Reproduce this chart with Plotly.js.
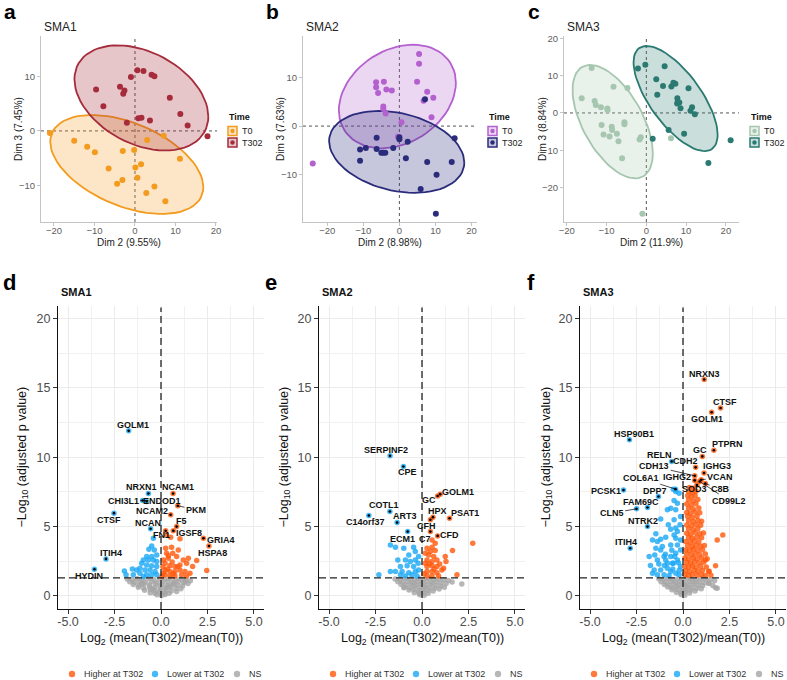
<!DOCTYPE html>
<html>
<head>
<meta charset="utf-8">
<script src="https://cdn.plot.ly/plotly-3.0.1.min.js"></script>
<style>
  body { margin: 0; background: #fff; }
  #chart { width: 787px; height: 680px; }
</style>
</head>
<body>
<div id="chart"></div>
<script>
const W = 787, H = 680;
const FONT = "Liberation Sans, Arial, Helvetica, sans-serif";

// ---------- PCA scores (Dim 2 / Dim 3) ----------
const aT0x = [-21.0, -15.0, -11.8, -9.9, -6.5, -4.4, -3.1, -3.0, -0.2, 0.1, 0.6, 1.5, 2.8, 4.8, 7.5, 11.1, 3.0, 7.1];
const aT0y = [-0.4, -1.8, -2.9, -3.9, -6.9, -9.7, -9.0, -3.7, -3.5, -6.7, -8.6, -6.1, -11.4, -10.2, -12.9, -5.1, -1.65, -0.9];
const aT302x = [-9.6, -3.7, -2.6, -2.9, -1.0, 0.6, 2.1, 4.1, 4.8, -7.8, 8.6, 11.2, 13.0, 0.8, 1.6, 3.7, -2.0, 17.9];
const aT302y = [7.6, 8.1, 7.4, 6.8, 9.9, 11.1, 11.0, 10.3, 10.0, 4.5, 6.1, 3.1, 1.0, 2.3, 2.4, 1.9, 1.5, -1.0];

const bT0x = [5.45, 5.45, 4.9, -6.45, -6.45, -5.9, -4.3, -3.6, -2.1, 7.7, 9.4, 6.7, -4.45, -4.45, -3.8, 8.9, 0.6, -0.4, -24.0];
const bT0y = [14.8, 12.8, 9.1, 9.0, 8.0, 6.8, 9.1, 7.5, 7.3, 7.05, 5.8, 5.2, 4.0, 3.5, 2.6, 1.8, 0.8, -2.2, -7.7];
const bT302x = [7.1, -6.3, -10.9, -9.3, -6.3, -5.0, -4.5, -3.9, -1.7, 0.0, 0.0, 2.3, 1.8, -10.9, 7.7, 15.3, 14.5, 10.3, 5.9, 10.1];
const bT302y = [5.5, -2.4, -4.8, -4.5, -4.7, -5.5, -5.5, -5.5, -4.5, -2.7, -2.3, -3.2, -6.6, -7.1, -7.4, -2.5, -7.4, -10.0, -12.9, -18.0];

const cT0x = [-13.75, -16.25, -13.0, -12.7, -11.4, -9.8, -9.75, -8.25, -4.75, -11.25, -8.7, -8.6, -10.75, -9.25, -7.4, -7.0, -5.5, -5.5, -6.1, -1.7, -1.4, 6.2, -1.0];
const cT0y = [12.05, 3.9, 3.2, 2.1, 1.5, 1.2, 0.7, 7.0, 6.7, -3.2, -3.7, -4.6, -5.8, -6.3, -5.6, -7.6, -2.5, -3.0, -12.1, -7.1, -6.5, -6.8, -27.0];
const cT302x = [-0.25, -2.1, 4.6, 2.5, 4.2, 6.3, 6.8, 7.3, 10.6, 2.75, 7.8, 7.9, 7.75, 8.3, 11.5, 11.1, 12.2, 8.6, 5.6, 1.6, 9.5, 15.6, 21.2];
const cT302y = [12.9, 11.9, 12.5, 9.0, 7.2, 7.05, 8.1, 7.8, 6.6, 4.9, 3.9, 3.0, 2.5, 2.8, 1.5, 0.6, -0.35, 1.25, -4.55, -6.9, -5.6, -13.4, -7.3];

const groupNames = ["T0", "T302"];
const pcaTicks = [-20, -10, 0, 10, 20];

// ---------- volcano: SMA1 ----------
const dNsX = [-1.82, -1.55, -1.28, -0.97, -0.66, -0.38, -0.08, 0.21, 0.49, 0.78, 1.06, 1.33, 1.58,
  -1.68, -1.41, -1.12, -0.83, -0.51, -0.22, 0.09, 0.37, 0.66, 0.93, 1.21, 1.45,
  -1.49, -1.19, -0.92, -0.61, -0.29, 0.02, 0.31, 0.58, 0.89, 1.16,
  -1.22, -0.94, -0.63, -0.35, -0.06, 0.24, 0.52, 0.81, 1.07,
  -0.88, -0.57, -0.31, -0.02, 0.27, 0.55, 0.84,
  -0.58, -0.33, -0.08, 0.18, 0.44,
  -0.21, 0.03, 0.22,
  -1.05, 0.71, -0.45, 0.4, 1.3];
const dNsY = [1.22, 1.18, 1.24, 1.2, 1.25, 1.17, 1.23, 1.2, 1.26, 1.19, 1.22, 1.16, 1.1,
  1.02, 0.98, 1.04, 0.99, 1.03, 0.96, 1.01, 1.05, 0.97, 1.02, 0.95, 0.9,
  0.82, 0.78, 0.84, 0.79, 0.85, 0.8, 0.76, 0.83, 0.78, 0.72,
  0.62, 0.58, 0.65, 0.6, 0.63, 0.57, 0.61, 0.56, 0.52,
  0.42, 0.45, 0.38, 0.44, 0.4, 0.36, 0.33,
  0.24, 0.2, 0.26, 0.22, 0.19,
  0.08, 0.04, 0.1,
  0.9, 0.88, 0.5, 0.68, 1.05];
const dDownX = [-0.41, -0.5, -0.65, -0.36, -0.77, -0.5, -0.23, -0.95, -0.68, -0.41, -0.23, -1.04, -0.77, -0.5, -0.23,
  -1.13, -0.86, -0.59, -0.32, -1.31, -1.54, -1.97, -1.88, -1.49, -1.13, -0.77, -0.5, -0.23, -0.95];
const dDownY = [4.16, 3.61, 3.37, 3.32, 2.84, 2.84, 2.96, 2.6, 2.6, 2.6, 2.48, 2.36, 2.24, 2.17, 2.12,
  2.0, 1.88, 1.88, 1.76, 1.88, 1.95, 1.8, 1.52, 1.52, 1.64, 1.52, 1.52, 1.52, 1.4];
const dUpX = [1.02, 0.3, 0.52, 0.25, 0.57, 0.3, 0.63, 0.39, 0.84, 1.2, 1.47, 1.92, 1.7, 1.38, 1.02, 0.22, 0.48,
  0.75, 0.22, 0.48, 0.75, 1.02, 1.29, 1.56, 0.22, 0.48, 0.75, 1.11, 1.38, 2.46, 0.13, 0.13, 0.93,
  0.35, 0.6, 0.9, 0.1, 0.65, 0.4, 0.05];
const dUpY = [4.12, 4.4, 4.24, 3.44, 3.51, 3.08, 3.08, 2.72, 2.84, 2.6, 2.72, 2.55, 2.12, 2.36, 2.24, 2.36, 2.17,
  2.12, 1.88, 1.76, 1.76, 1.88, 1.76, 1.64, 1.52, 1.44, 1.44, 1.52, 1.44, 1.83, 2.6, 1.64, 3.32,
  1.95, 2.45, 2.1, 2.1, 1.6, 2.9, 1.4];
const dGenes = ["GOLM1", "NRXN1", "NCAM1", "CHI3L1", "ENDOD1", "NCAM2", "PKM", "F5", "NCAN", "FN1", "IGSF8", "CTSF", "GRIA4", "HSPA8", "ITIH4", "HYDIN"];
const dGeneX = [-1.74, -0.68, 0.65, -0.99, -0.77, 0.52, 0.9, 0.84, -0.56, 0.25, 0.66, -2.53, 2.28, 2.58, -2.96, -3.58];
const dGeneY = [11.9, 7.39, 7.39, 6.88, 6.81, 5.85, 6.5, 5.0, 4.84, 4.7, 4.7, 5.97, 4.16, 3.6, 2.67, 1.92];

// ---------- volcano: SMA2 ----------
const eNsX = [-1.45, -1.18, -0.92, -0.65, -0.4, -0.14, 0.12, 0.38, 0.63, 0.9, 1.15, 1.42,
  -1.3, -1.04, -0.78, -0.52, -0.26, 0.0, 0.26, 0.52, 0.78, 1.03, 1.3,
  -1.12, -0.85, -0.58, -0.31, -0.05, 0.21, 0.48, 0.74, 1.0,
  -0.93, -0.66, -0.4, -0.13, 0.14, 0.41, 0.68, 0.92,
  -0.7, -0.44, -0.18, 0.08, 0.34, 0.6,
  -0.42, -0.17, 0.09, 0.33,
  -0.12, 0.12,
  2.14, 1.62, -0.98, 1.2];
const eNsY = [1.23, 1.19, 1.25, 1.21, 1.17, 1.24, 1.2, 1.26, 1.18, 1.22, 1.16, 1.12,
  1.03, 0.99, 1.05, 0.97, 1.02, 0.98, 1.04, 0.96, 1.01, 0.94, 0.9,
  0.83, 0.79, 0.85, 0.8, 0.84, 0.77, 0.82, 0.76, 0.72,
  0.63, 0.59, 0.66, 0.61, 0.64, 0.58, 0.55, 0.5,
  0.43, 0.46, 0.39, 0.44, 0.4, 0.35,
  0.25, 0.21, 0.27, 0.2,
  0.09, 0.05,
  0.87, 1.0, 0.6, 0.62];
const eDownX = [-1.7, -1.43, -0.98, -0.45, -0.36, -0.71, -1.3, -0.89, -0.63, -0.36, -0.21, -1.16, -0.8,
  -0.45, -1.7, -1.43, -1.07, -0.71, -0.36, -0.18, -2.32, -1.16, -0.89, -0.54, -0.27, -0.18];
const eDownY = [3.68, 3.51, 3.44, 3.51, 3.2, 2.96, 2.6, 2.6, 2.48, 2.6, 2.36, 2.12, 2.17,
  2.12, 1.76, 1.76, 1.76, 1.68, 1.76, 1.88, 1.52, 1.52, 1.44, 1.52, 1.44, 2.84];
const eUpX = [2.73, 0.54, 0.27, 0.71, 0.36, 0.63, 1.25, 1.64, 0.27, 0.54, 0.8, 1.29, 0.27, 0.54, 0.8, 1.16,
  0.27, 0.54, 0.8, 1.07, 0.27, 0.54, 0.89, 1.88, 0.71, 0.54, 0.18, 0.18, 0.4, 0.65, 0.1, 0.45, 0.95];
const eUpY = [3.8, 3.51, 3.44, 3.27, 2.96, 2.84, 2.84, 3.27, 2.6, 2.48, 2.6, 2.48, 2.12, 2.17, 2.12, 2.0,
  1.76, 1.76, 1.68, 1.88, 1.44, 1.44, 1.44, 1.52, 3.8, 4.04, 2.36, 3.08, 2.3, 1.95, 1.6, 3.2, 2.3];
const eGenes = ["SERPINF2", "CPE", "GOLM1", "GC", "COTL1", "C14orf37", "ART3", "HPX", "PSAT1", "CFH", "ECM1", "C7", "CFD"];
const eGeneX = [-1.72, -1.0, 0.98, 0.84, -1.73, -2.86, -1.34, 0.59, 1.48, 0.45, -0.77, 0.45, 0.84];
const eGeneY = [10.1, 9.33, 7.34, 7.2, 6.09, 5.8, 5.3, 5.68, 5.6, 5.49, 4.64, 4.64, 4.33];

// ---------- volcano: SMA3 ----------
const fNsX = [-1.3, -1.05, -0.8, -0.55, -0.3, -0.05, 0.2, 0.45, 0.7, 0.95, 1.2, 1.45, 1.7,
  -1.18, -0.92, -0.66, -0.4, -0.15, 0.1, 0.36, 0.62, 0.88, 1.12, 1.38,
  -1.0, -0.74, -0.48, -0.22, 0.04, 0.3, 0.56, 0.82, 1.06,
  -0.82, -0.56, -0.3, -0.04, 0.22, 0.48, 0.74, 0.98,
  -0.6, -0.35, -0.1, 0.15, 0.4, 0.65,
  -0.36, -0.12, 0.12, 0.36,
  -0.1, 0.1,
  1.39, 1.75, 1.6, 1.84];
const fNsY = [1.24, 1.2, 1.26, 1.18, 1.23, 1.19, 1.25, 1.21, 1.17, 1.24, 1.2, 1.15, 1.1,
  1.03, 0.99, 1.05, 0.98, 1.02, 0.96, 1.04, 0.99, 1.01, 0.95, 0.92,
  0.83, 0.78, 0.85, 0.81, 0.84, 0.79, 0.82, 0.77, 0.73,
  0.64, 0.6, 0.66, 0.62, 0.65, 0.58, 0.56, 0.52,
  0.44, 0.47, 0.4, 0.45, 0.41, 0.36,
  0.26, 0.22, 0.28, 0.21,
  0.1, 0.06,
  0.91, 0.6, 0.75, 0.55];
const fDownX = [-1.64, -1.38, -1.2, -0.93, -0.48, -0.39, -1.46, -1.2, -0.66, -0.3, -0.66, -0.39, -0.3, -0.48,
  -1.2, -0.84, -0.66, -0.39, -0.3, -0.48, -0.13, -0.16, -1.02, -1.38, -1.55, -1.2, -0.84, -0.66, -0.39,
  -0.3, -0.13, -1.02, -0.66, -0.39, -0.21, -1.38, -1.64, -0.84, -0.52, -0.13, -0.13, -1.46, -0.79, -1.52,
  -1.82, -1.11, -0.21, -0.39, -0.52, -0.57, -0.93,
  -0.75, -0.55, -0.25, -1.0, -0.45, -0.2, -0.95, -0.6, -1.75, -1.3];
const fDownY = [4.04, 3.92, 4.09, 4.24, 4.4, 4.16, 3.44, 3.32, 3.68, 3.68, 4.81, 4.89, 4.65, 5.49,
  5.54, 6.21, 6.33, 6.21, 6.69, 6.88, 5.73, 5.13, 2.84, 2.6, 1.88, 1.88, 2.36, 2.84, 3.08,
  2.6, 2.12, 1.52, 1.76, 1.64, 1.52, 1.52, 1.64, 2.0, 2.36, 3.32, 4.04, 4.48, 5.13, 2.96,
  2.84, 3.56, 7.41, 7.53, 7.7, 2.36, 2.6,
  1.45, 1.95, 2.4, 2.2, 2.85, 1.85, 3.0, 3.3, 2.2, 2.3];
const fUpX = [0.35, 0.55, 0.3, 0.5, 0.7, 0.25, 0.45, 0.65, 0.3, 0.55, 0.8, 0.2, 0.45, 0.7, 0.3, 0.55, 0.85,
  0.2, 0.4, 0.65, 0.9, 0.25, 0.5, 0.75, 0.3, 0.55, 0.8, 1.0, 0.2, 0.45, 0.7, 0.95, 0.3, 0.55, 0.8,
  0.2, 0.4, 0.65, 0.9, 1.1, 0.3, 0.5, 0.75, 1.0, 0.15, 0.4, 0.6, 0.85, 0.25, 0.5, 0.7, 0.95, 1.15,
  0.15, 0.35, 0.55, 0.8, 1.05, 0.2, 0.45, 0.65, 0.9, 1.2, 0.1, 0.3, 0.55, 0.75, 1.0, 1.3,
  0.2, 0.4, 0.6, 0.85, 1.1, 0.1, 0.3, 0.5, 0.7, 0.95, 1.25, 0.15, 0.35, 0.6, 0.8, 1.05, 1.4,
  0.1, 0.3, 0.5, 0.75, 1.0, 1.2, 1.5, 2.14, 1.84, 1.39, 1.75, 1.21];
const fUpY = [7.82, 7.76, 7.52, 7.47, 7.55, 7.22, 7.18, 7.25, 6.92, 6.87, 6.95, 6.62, 6.58, 6.65, 6.32, 6.27, 6.34,
  6.02, 5.97, 6.05, 5.99, 5.72, 5.68, 5.74, 5.42, 5.37, 5.44, 5.39, 5.12, 5.07, 5.14, 5.09, 4.82, 4.77, 4.84,
  4.52, 4.47, 4.55, 4.49, 4.53, 4.22, 4.17, 4.24, 4.19, 3.92, 3.87, 3.94, 3.89, 3.62, 3.57, 3.64, 3.59, 3.63,
  3.32, 3.27, 3.34, 3.29, 3.33, 3.02, 2.97, 3.04, 2.99, 3.03, 2.72, 2.67, 2.74, 2.69, 2.73, 2.68,
  2.42, 2.37, 2.44, 2.39, 2.43, 2.12, 2.07, 2.14, 2.09, 2.13, 2.08, 1.82, 1.77, 1.84, 1.79, 1.83, 1.78,
  1.52, 1.47, 1.54, 1.49, 1.53, 1.48, 1.5, 4.4, 4.04, 1.76, 2.17, 2.6];
const fGenes = ["NRXN3", "CTSF", "GOLM1", "HSP90B1", "PTPRN", "GC", "RELN", "CDH2", "IGHG3", "CDH13", "IGHG2",
  "COL6A1", "VCAN", "PCSK1", "DPP7", "SOD3", "C8B", "CD99L2", "FAM69C", "CLN5", "NTRK2", "ITIH4"];
const fGeneX = [1.14, 2.02, 1.54, -2.88, 1.66, 1.04, -0.61, 0.68, 1.13, 0.63, 0.63, -0.4, 0.98, -3.2, -1.32, 0.75, 1.2, 0.9, -1.91, -2.5, -1.91, -2.84];
const fGeneY = [15.6, 13.55, 13.24, 11.26, 10.5, 10.06, 9.7, 9.27, 8.86, 8.66, 8.33, 7.7, 8.37, 7.63, 7.17, 8.0, 8.1, 8.25, 6.38, 6.28, 5.0, 3.44];

const volcXTicks = [-5, -2.5, 0, 2.5, 5];
const volcXText = ["-5.0", "-2.5", "0.0", "2.5", "5.0"];
const volcYTicks = [0, 5, 10, 15, 20];
const volcLegend = ["Higher at T302", "Lower at T302", "NS"];
const pCut = 1.301; // -log10(0.05)

// where the repelled gene labels sit (data units)
const labelPos = {
  d: [[-1.52, 12.3], [-1.04, 7.82], [0.9, 7.82], [-2.03, 6.88], [0.07, 6.88], [-0.5, 6.09], [1.88, 6.21], [1.11, 5.42],
      [-0.72, 5.25], [0.0, 4.4], [1.52, 4.57], [-2.78, 5.44], [3.21, 4.04], [2.78, 3.13], [-2.71, 3.08], [-3.85, 1.44]],
  e: [[-1.94, 10.54], [-0.77, 8.9], [1.96, 7.49], [0.36, 6.93], [-2.07, 6.55], [-3.04, 5.32], [-0.93, 5.73], [0.84, 6.14],
      [2.32, 5.97], [0.23, 5.05], [-1.07, 4.12], [0.18, 4.12], [1.48, 4.36]],
  f: [[1.13, 16.0], [2.25, 13.98], [1.27, 12.78], [-2.66, 11.7], [2.38, 10.95], [0.91, 10.52], [-1.29, 10.13], [0.14, 9.75],
      [1.84, 9.34], [-1.55, 9.34], [-0.3, 8.6], [-2.27, 8.5], [2.0, 8.57], [-4.14, 7.58], [-1.52, 7.58], [0.63, 7.7],
      [2.02, 7.7], [2.46, 6.88], [-2.27, 6.76], [-3.84, 5.97], [-2.13, 5.42], [-3.07, 3.92]]
};

// ---------- helpers ----------
const xp = v => v / W;
const yp = v => 1 - v / H;
const sfx = n => (n === 1 ? "" : String(n));

// MASS::cov.trob, as used by stat_ellipse(type = "t")
function covTrob(xs, ys, nu = 5) {
  const n = xs.length;
  let w = xs.map(() => 1);
  let cx = xs.reduce((s, v) => s + v, 0) / n;
  let cy = ys.reduce((s, v) => s + v, 0) / n;
  let dx = [], dy = [];
  for (let it = 0; it < 25; it++) {
    const w0 = w.slice();
    dx = xs.map(v => v - cx);
    dy = ys.map(v => v - cy);
    const sw = w.reduce((s, v) => s + v, 0);
    let sxx = 0, sxy = 0, syy = 0;
    for (let i = 0; i < n; i++) {
      sxx += (w[i] / sw) * dx[i] * dx[i];
      sxy += (w[i] / sw) * dx[i] * dy[i];
      syy += (w[i] / sw) * dy[i] * dy[i];
    }
    const det = sxx * syy - sxy * sxy;
    w = dx.map((_, i) => {
      const q = (syy * dx[i] * dx[i] - 2 * sxy * dx[i] * dy[i] + sxx * dy[i] * dy[i]) / det;
      return (nu + 2) / (nu + q);
    });
    const sw2 = w.reduce((s, v) => s + v, 0);
    cx = w.reduce((s, v, i) => s + v * xs[i], 0) / sw2;
    cy = w.reduce((s, v, i) => s + v * ys[i], 0) / sw2;
    if (w.every((v, i) => Math.abs(v - w0[i]) < 0.01)) break;
  }
  let cxx = 0, cxy = 0, cyy = 0;
  for (let i = 0; i < n; i++) {
    cxx += w[i] * dx[i] * dx[i];
    cxy += w[i] * dx[i] * dy[i];
    cyy += w[i] * dy[i] * dy[i];
  }
  return { cx, cy, cxx: cxx / n, cxy: cxy / n, cyy: cyy / n };
}

function ellipse(xs, ys, level = 0.95, seg = 72) {
  const v = covTrob(xs, ys);
  const d = xs.length - 1;
  const qf = (d / 2) * (Math.pow(1 - level, -2 / d) - 1); // F(2, d) quantile
  const r = Math.sqrt(2 * qf);
  const r11 = Math.sqrt(v.cxx), r12 = v.cxy / r11, r22 = Math.sqrt(v.cyy - r12 * r12);
  const ex = [], ey = [];
  for (let k = 0; k <= seg; k++) {
    const t = (2 * Math.PI * k) / seg;
    ex.push(v.cx + r * Math.cos(t) * r11);
    ey.push(v.cy + r * (Math.cos(t) * r12 + Math.sin(t) * r22));
  }
  return { ex, ey };
}

const traces = [];
const shapes = [];
const annotations = [];
const layout = {
  width: W, height: H,
  margin: { l: 0, r: 0, t: 0, b: 0 },
  paper_bgcolor: "#fff", plot_bgcolor: "#fff",
  showlegend: false,
  font: { family: FONT },
  shapes, annotations
};

function text(x, y, t, opt = {}) {
  annotations.push(Object.assign({
    xref: "paper", yref: "paper", x: xp(x), y: yp(y), text: t, showarrow: false,
    xanchor: "left", yanchor: "middle",
    font: { family: FONT, size: 10, color: "#222" }
  }, opt));
}

// ---------- top row: PCA ----------
const pcaPanels = [
  { n: 1, letter: "a", title: "SMA1", left: 0, x0: 41, x1: 217, xr: [-23.2, 20.25], yr: [-16.7, 17.4],
    g: [[aT0x, aT0y], [aT302x, aT302y]], xlab: "Dim 2 (9.55%)", ylab: "Dim 3 (7.45%)",
    col: ["#F39B1E", "#A62B3B"], fill: ["rgba(243,155,30,0.25)", "rgba(166,43,59,0.27)"] },
  { n: 2, letter: "b", title: "SMA2", left: 262, x0: 303, x1: 477, xr: [-26.7, 21.5], yr: [-19.7, 18.5],
    g: [[bT0x, bT0y], [bT302x, bT302y]], xlab: "Dim 2 (8.98%)", ylab: "Dim 3 (7.63%)",
    col: ["#B460CF", "#2B2B7C"], fill: ["rgba(180,96,207,0.25)", "rgba(43,43,124,0.27)"] },
  { n: 3, letter: "c", title: "SMA3", left: 524, x0: 564, x1: 739, xr: [-20.7, 23.3], yr: [-29.2, 20.6],
    g: [[cT0x, cT0y], [cT302x, cT302y]], xlab: "Dim 2 (11.9%)", ylab: "Dim 3 (8.84%)",
    col: ["#A6C6AF", "#2A7A72"], fill: ["rgba(166,198,175,0.25)", "rgba(42,122,114,0.25)"] }
];
const topY0 = 36, topY1 = 222;

pcaPanels.forEach(p => {
  const s = sfx(p.n);
  const axisBase = {
    showline: true, linecolor: "#C4C4C4", linewidth: 1,
    ticks: "outside", ticklen: 3, tickcolor: "#C4C4C4",
    tickfont: { family: FONT, size: 9.5, color: "#5E5E5E" },
    showgrid: false, zeroline: false, tickmode: "array", tickvals: pcaTicks, fixedrange: true
  };
  layout["xaxis" + s] = Object.assign({}, axisBase, { domain: [xp(p.x0), xp(p.x1)], range: p.xr, anchor: "y" + s, ticklabelstandoff: -3 });
  layout["yaxis" + s] = Object.assign({}, axisBase, { domain: [yp(topY1), yp(topY0)], range: p.yr, anchor: "x" + s });

  const ells = p.g.map(([gx, gy]) => ellipse(gx, gy));
  ells.forEach((e, k) => traces.push({
    type: "scatter", mode: "lines", x: e.ex, y: e.ey, fill: "toself",
    fillcolor: p.fill[k], line: { color: p.col[k], width: 1.8 },
    xaxis: "x" + s, yaxis: "y" + s, hoverinfo: "skip"
  }));
  p.g.forEach(([gx, gy], k) => traces.push({
    type: "scatter", mode: "markers", x: gx, y: gy, name: groupNames[k],
    marker: { size: 6, color: p.col[k] },
    xaxis: "x" + s, yaxis: "y" + s
  }));

  // dashed zero lines
  shapes.push({ type: "line", xref: "x" + s, yref: "y" + s + " domain", x0: 0, x1: 0, y0: 0, y1: 1,
    layer: "below", line: { color: "#555", width: 1, dash: "3px,3px" } });
  shapes.push({ type: "line", xref: "x" + s + " domain", yref: "y" + s, x0: 0, x1: 1, y0: 0, y1: 0,
    layer: "below", line: { color: "#555", width: 1, dash: "3px,3px" } });

  // labels
  text(p.left + 2, 11, "<b>" + p.letter + "</b>", { font: { family: FONT, size: 21, color: "#000" } });
  text(p.x0 + 1, 27, p.title, { font: { family: FONT, size: 12, color: "#222" } });
  text((p.x0 + p.x1) / 2, 242, p.xlab, { xanchor: "center", font: { family: FONT, size: 10, color: "#222" } });
  text(p.left + 18, (topY0 + topY1) / 2, p.ylab, { xanchor: "center", textangle: -90, font: { family: FONT, size: 10, color: "#222" } });

  // legend
  const lx = p.x1 + 10;
  text(lx, 117, "<b>Time</b>", { font: { family: FONT, size: 9, color: "#111" } });
  [131, 142.5].forEach((cy, k) => {
    shapes.push({ type: "rect", xref: "paper", yref: "paper", x0: xp(lx + 1), x1: xp(lx + 10), y0: yp(cy + 4.5), y1: yp(cy - 4.5),
      fillcolor: p.fill[k], line: { color: p.col[k], width: 1.5 } });
    shapes.push({ type: "circle", xref: "paper", yref: "paper", x0: xp(lx + 3.3), x1: xp(lx + 7.7), y0: yp(cy + 2.2), y1: yp(cy - 2.2),
      fillcolor: p.col[k], line: { width: 0 } });
    text(lx + 13, cy, groupNames[k], { font: { family: FONT, size: 9, color: "#222" } });
  });
});

// ---------- bottom row: volcano plots ----------
const UP = "rgba(255,88,10,0.8)", DOWN = "rgba(25,168,245,0.8)", NS = "rgba(165,165,165,0.8)";
const volcPanels = [
  { n: 4, letter: "d", title: "SMA1", left: 0, x0: 58, x1: 264, ns: [dNsX, dNsY], down: [dDownX, dDownY], up: [dUpX, dUpY],
    genes: dGenes, gx: dGeneX, gy: dGeneY, lab: labelPos.d },
  { n: 5, letter: "e", title: "SMA2", left: 262, x0: 319, x1: 525, ns: [eNsX, eNsY], down: [eDownX, eDownY], up: [eUpX, eUpY],
    genes: eGenes, gx: eGeneX, gy: eGeneY, lab: labelPos.e },
  { n: 6, letter: "f", title: "SMA3", left: 524, x0: 580, x1: 786, ns: [fNsX, fNsY], down: [fDownX, fDownY], up: [fUpX, fUpY],
    genes: fGenes, gx: fGeneX, gy: fGeneY, lab: labelPos.f }
];
const botY0 = 306, botY1 = 609;

volcPanels.forEach(p => {
  const s = sfx(p.n);
  const base = {
    showline: true, linecolor: "#111", linewidth: 1.1,
    ticks: "outside", ticklen: 4, tickcolor: "#333",
    tickfont: { family: FONT, size: 12.5, color: "#4D4D4D" },
    showgrid: true, gridcolor: "#EBEBEB", gridwidth: 1, zeroline: false, fixedrange: true
  };
  layout["xaxis" + s] = Object.assign({}, base, {
    domain: [xp(p.x0), xp(p.x1)], range: [-5.54, 5.54], anchor: "y" + s,
    tickmode: "array", tickvals: volcXTicks, ticktext: volcXText, ticklabelstandoff: -3,
    minor: { tick0: -5, dtick: 1.25, showgrid: true, gridcolor: "#F1F1F1", ticks: "" }
  });
  layout["yaxis" + s] = Object.assign({}, base, {
    domain: [yp(botY1), yp(botY0)], range: [-0.94, 20.9], anchor: "x" + s,
    tickmode: "array", tickvals: volcYTicks,
    minor: { tick0: 0, dtick: 2.5, showgrid: true, gridcolor: "#F1F1F1", ticks: "" }
  });

  const upX = p.up[0].slice(), upY = p.up[1].slice(), dnX = p.down[0].slice(), dnY = p.down[1].slice();
  p.gx.forEach((x, i) => {
    if (x > 0) { upX.push(x); upY.push(p.gy[i]); } else { dnX.push(x); dnY.push(p.gy[i]); }
  });
  const mk = (x, y, c, name) => ({
    type: "scatter", mode: "markers", x, y, name,
    marker: { size: 5.5, color: c, line: { width: 0 } }, xaxis: "x" + s, yaxis: "y" + s
  });
  traces.push(mk(p.ns[0], p.ns[1], NS, volcLegend[2]));
  traces.push(mk(dnX, dnY, DOWN, volcLegend[1]));
  traces.push(mk(upX, upY, UP, volcLegend[0]));
  traces.push({ type: "scatter", mode: "markers", x: p.gx, y: p.gy, text: p.genes,
    marker: { size: 2.6, color: "#000" }, xaxis: "x" + s, yaxis: "y" + s });

  p.genes.forEach((g, i) => {
    annotations.push({
      xref: "x" + s, yref: "y" + s, axref: "x" + s, ayref: "y" + s,
      x: p.gx[i], y: p.gy[i], ax: p.lab[i][0], ay: p.lab[i][1],
      text: "<b>" + g + "</b>", showarrow: true, arrowhead: 0, arrowwidth: 0.7, arrowcolor: "#000",
      standoff: 0, startstandoff: 0,
      font: { family: FONT, size: 9, color: "#111" }
    });
  });

  shapes.push({ type: "line", xref: "x" + s, yref: "y" + s + " domain", x0: 0, x1: 0, y0: 0, y1: 0.995,
    line: { color: "#222", width: 1.3, dash: "7px,4px" } });
  shapes.push({ type: "line", xref: "x" + s + " domain", yref: "y" + s, x0: 0, x1: 1, y0: pCut, y1: pCut,
    line: { color: "#222", width: 1.3, dash: "7px,4px" } });

  text(p.left + 1, 282, "<b>" + p.letter + "</b>", { font: { family: FONT, size: 22, color: "#000" } });
  text(p.x0 + 1, 292, "<b>" + p.title + "</b>", { font: { family: FONT, size: 11, color: "#111" } });
  text((p.x0 + p.x1) / 2, 639, "Log<sub>2</sub> (mean(T302)/mean(T0))", { xanchor: "center", font: { family: FONT, size: 12.5, color: "#111" } });
  text(p.left + 22, (botY0 + botY1) / 2, "\u2212Log<sub>10</sub> (adjusted p value)", { xanchor: "center", textangle: -90, font: { family: FONT, size: 12.5, color: "#111" } });

  const legCols = [UP, DOWN, NS];
  [14, 97, 179].forEach((off, k) => {
    const cx = p.x0 + off, cy = 674;
    shapes.push({ type: "circle", xref: "paper", yref: "paper", x0: xp(cx - 3.2), x1: xp(cx + 3.2), y0: yp(cy + 3.2), y1: yp(cy - 3.2),
      fillcolor: legCols[k], line: { width: 0 } });
    text(cx + 10, cy, volcLegend[k], { font: { family: FONT, size: 9, color: "#333" } });
  });
});

Plotly.newPlot("chart", traces, layout, { displayModeBar: false, staticPlot: true });
</script>
</body>
</html>
